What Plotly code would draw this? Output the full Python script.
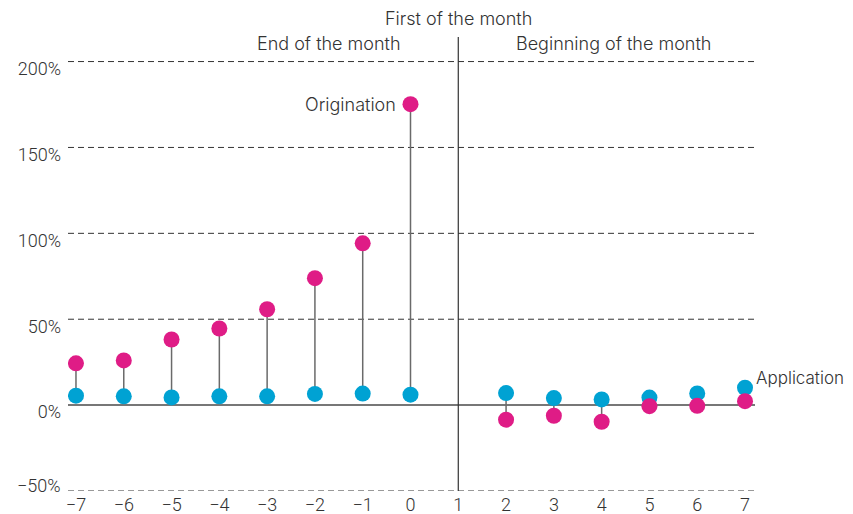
import plotly.graph_objects as go

days = [-7, -6, -5, -4, -3, -2, -1, 0, 2, 3, 4, 5, 6, 7]
origination = [24.3, 26.0, 38.2, 44.6, 55.8, 73.9, 94.2, 175.2, -8.5, -6.2, -9.7, -0.6, -0.4, 2.3]
application = [5.5, 5.1, 4.5, 5.1, 5.1, 6.5, 6.7, 6.1, 7.0, 4.1, 3.3, 4.4, 6.8, 10.1]

x_ticks = list(range(-7, 8))
x_ticklabels = [str(v).replace("-", "\u2212") for v in x_ticks]
y_ticks = [-50, 0, 50, 100, 150, 200]
y_ticklabels = [f"{v}%".replace("-", "\u2212") for v in y_ticks]

MAGENTA = "#DF1C86"
BLUE = "#00A2D3"
TEXT = "#333333"
TICK_FONT = "Roboto"
LABEL_FONT = "Inter"

fig = go.Figure()

# stems
sx, sy = [], []
for d, o, a in zip(days, origination, application):
    sx += [d, d, None]
    sy += [a, o, None]
fig.add_trace(go.Scatter(x=sx, y=sy, mode="lines", line=dict(color="#6a6a6a", width=1.5),
                         hoverinfo="skip", showlegend=False))

fig.add_trace(go.Scatter(x=days, y=application, mode="markers", name="Application",
                         marker=dict(color=BLUE, size=16), showlegend=False))
fig.add_trace(go.Scatter(x=days, y=origination, mode="markers", name="Origination",
                         marker=dict(color=MAGENTA, size=16), showlegend=False))

# dashed grid lines
for v in y_ticks:
    if v == 0:
        continue
    fig.add_shape(type="line", xref="paper", yref="y", x0=0, x1=1, y0=v, y1=v,
                  line=dict(color="#333333", width=1, dash="6px,4px"), layer="below")
# zero line
fig.add_shape(type="line", xref="paper", yref="y", x0=0, x1=1, y0=0, y1=0,
              line=dict(color="#777777", width=2), layer="below")
# first-of-month vertical line
fig.add_shape(type="line", xref="x", yref="paper", x0=1, x1=1, y0=0, y1=1,
              line=dict(color="#333333", width=1.2), layer="below")

tickfont = dict(family=TICK_FONT, size=18, color=TEXT, weight=300)
labelfont = dict(family=LABEL_FONT, size=18, color=TEXT, weight=300)

annotations = [
    dict(x=1, y=1, xref="x", yref="paper", text="First of the month", showarrow=False,
         xanchor="center", yanchor="bottom", yshift=6, font=labelfont),
    dict(x=-1.7, y=0.9846, xref="x", yref="paper", text="End of the month", showarrow=False,
         xanchor="center", yanchor="middle", font=labelfont),
    dict(x=4.24, y=0.9846, xref="x", yref="paper", text="Beginning of the month", showarrow=False,
         xanchor="center", yanchor="middle", font=labelfont),
    dict(x=days[7], y=origination[7], xref="x", yref="y", text="Origination", showarrow=False,
         xanchor="right", yanchor="middle", xshift=-13, font=labelfont),
    dict(x=days[-1], y=application[-1], xref="x", yref="y", text="Application", showarrow=False,
         xanchor="left", yanchor="middle", xshift=9, yshift=10,
         font=dict(labelfont, size=17)),
    # lowest y tick label, lifted above its grid line as in the original
    dict(x=0, y=y_ticks[0], xref="paper", yref="y", text=y_ticklabels[0], showarrow=False,
         xanchor="right", yanchor="middle", xshift=-5, yshift=6, font=tickfont),
]

# page body has an 8px margin, so the figure is 8px smaller and offset
fig.update_layout(
    width=845, height=506,
    margin=dict(l=60, r=98, t=29, b=23, autoexpand=False),
    plot_bgcolor="white", paper_bgcolor="white",
    font=dict(family=TICK_FONT, size=18, color=TEXT, weight=300),
    annotations=annotations,
    xaxis=dict(range=[-7.167, 7.209], tickvals=x_ticks, ticktext=x_ticklabels,
               showgrid=False, zeroline=False, showline=False, ticks="",
               automargin=False, ticklabelstandoff=1, tickfont=tickfont, fixedrange=True),
    yaxis=dict(range=[-50, 214.3], tickvals=y_ticks[1:], ticktext=y_ticklabels[1:],
               showgrid=False, zeroline=False, showline=False, ticks="",
               automargin=False, ticklabelstandoff=6, ticklabelshift=7,
               tickfont=tickfont, fixedrange=True),
)

fig.write_html("out.html")
